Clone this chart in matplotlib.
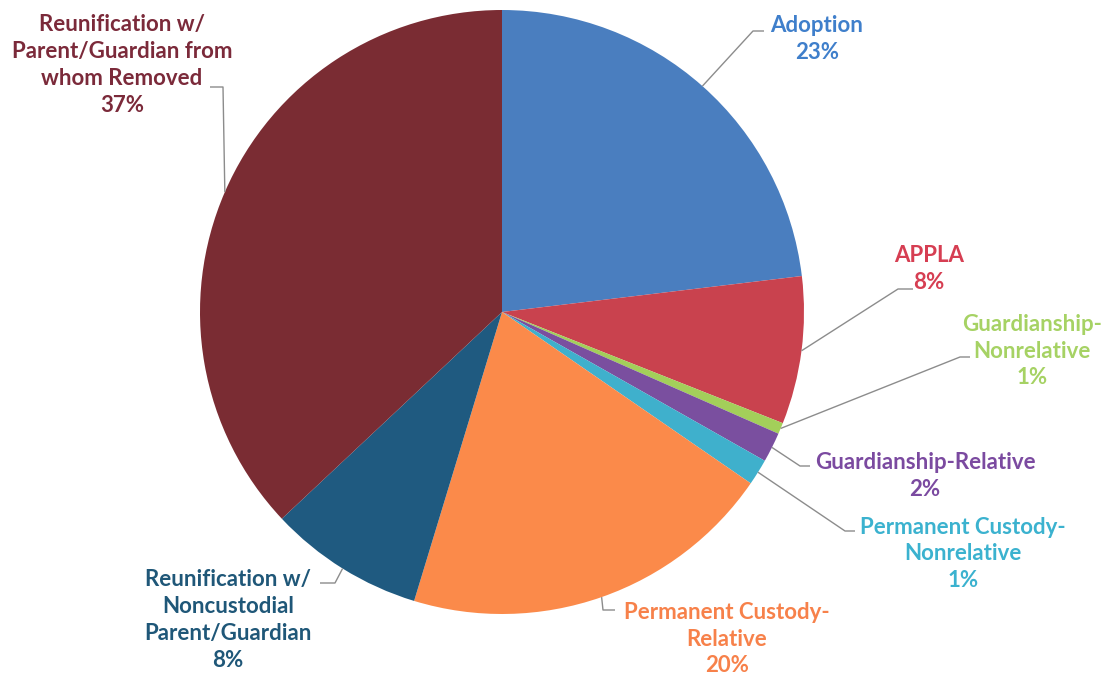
import numpy as np
import matplotlib
matplotlib.use("Agg")
import matplotlib.pyplot as plt

categories = [
    "Adoption",
    "APPLA",
    "Guardianship-\nNonrelative",
    "Guardianship-Relative",
    "Permanent Custody-\nNonrelative",
    "Permanent Custody-\nRelative",
    "Reunification w/\nNoncustodial\nParent/Guardian",
    "Reunification w/\nParent/Guardian from\nwhom Removed",
]
values = [23.1, 7.9, 0.6, 1.6, 1.4, 20.1, 8.3, 37.0]
wedge_colors = ["#4a7ebf", "#c9424e", "#a3cf5a", "#7a4f9f", "#3fb0cc", "#fb8a4a", "#1f5a80", "#7a2c33"]
text_colors = ["#3f7fcb", "#d63e52", "#a6d264", "#7b4aa0", "#3bb2cf", "#f7814a", "#1f5778", "#7b2a3a"]

W, H = 1115, 679
fig = plt.figure(figsize=(W / 100, H / 100), dpi=100)
ax = fig.add_axes([0, 0, 1, 1])

cx, cy, R = 502, H - 312, 302
wedges, _ = ax.pie(values, colors=wedge_colors, startangle=90, counterclock=False,
                   center=(cx, cy), radius=R, frame=True,
                   wedgeprops=dict(linewidth=0))
ax.set_xlim(0, W)
ax.set_ylim(0, H)
ax.set_aspect("equal")
ax.axis("off")

# label centers (pixel coords, y from top) and leader elbow / end points
label_pos = [(817, 39), (929, 269), (1032, 351), (925, 476), (963, 554),
             (727, 639), (228, 620), (122, 65)]
elbows = [((753, 31), (764, 31)), ((898, 289), (913, 289)), ((960, 357), (970, 357)),
          ((800, 466), (810, 466)), ((845, 531), (855, 531)), ((603, 610), (615, 610)),
          ((335, 583), (320, 583)), ((223, 87), (210, 87))]

for i, w in enumerate(wedges):
    mid = np.deg2rad((w.theta1 + w.theta2) / 2)
    ax_x = cx + R * np.cos(mid)
    ax_y = cy + R * np.sin(mid)
    (ex, ey), (hx, hy) = elbows[i]
    ax.plot([ax_x, ex, hx], [ax_y, H - ey, H - hy], color="#8c8c8c", lw=1.0,
            solid_capstyle="butt", zorder=3)
    pct = f"{round(values[i]):.0f}%"
    lx, ly = label_pos[i]
    ax.text(lx, H - ly, f"{categories[i]}\n{pct}", ha="center", va="center",
            color=text_colors[i], fontsize=16, fontweight="bold",
            family=["Lato", "DejaVu Sans"], linespacing=1.35)

fig.savefig("out.png", dpi=100)
